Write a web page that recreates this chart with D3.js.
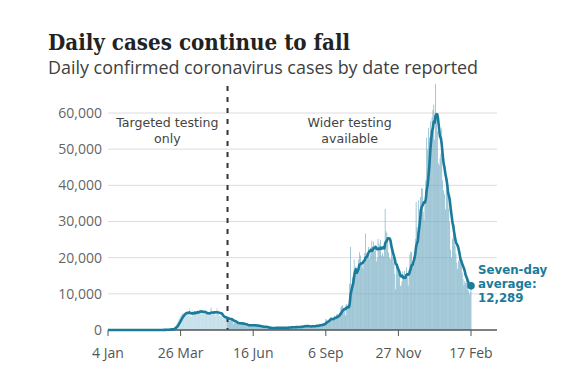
<!DOCTYPE html>
<html><head><meta charset="utf-8">
<script src="https://cdn.jsdelivr.net/npm/d3@7"></script>
<style>body{margin:0;background:#fff}svg{display:block}</style>
</head><body>
<svg id="c" width="572" height="374"></svg>
<script>
// ---- data (daily confirmed cases by date reported, from 4 Jan 2020) ----
const startDate = "2020-01-04";
const jan2020 = [0,0,0,0,0,0,0,0,0,0,0,0,0,0,0,0,0,0,0,0,0,0,0,0,0,0,0,2];
const feb2020 = [0,0,0,0,1,1,3,1,0,0,1,0,0,0,0,0,0,0,0,0,0,0,0,4,0,3,3,2,7];
const mar2020 = [12,4,11,34,29,48,45,69,43,67,83,134,117,208,342,251,152,407,800,1100,1500,1900,2400,2900,3400,3900,4300,4600,4500,4700,4900];
const apr2020 = [5000,4800,4900,3900,5900,3800,3700,5500,4400,5200,5300,4400,5200,4600,4600,5600,5500,5800,4700,4300,4500,4600,5400,4900,4500,4300,4000,4100,6000,6200];
const may2020 = [4800,4300,4700,4000,4400,6100,5600,4600,3900,3900,3900,3400,3200,3400,3600,3400,3500,2700,3100,2500,2600,3300,3000,2400,1600,2000,2000,1900,2100,1900,1600];
const jun2020 = [1650,1870,1870,1800,1650,1560,1330,1200,1390,1000,1270,1540,1420,1510,1060,1280,1120,1220,1350,1300,1220,960,920,650,1120,1010,890,900,820,690];
const jul2020 = [830,580,540,620,520,350,580,630,610,510,820,650,530,600,540,460,690,830,580,540,450,560,770,770,740,770,690,580,760,850,880];
const aug2020 = [740,740,940,670,890,950,870,760,1060,820,1150,1010,1440,1040,1010,1080,710,1090,810,1180,1030,1290,1040,850,1180,1050,1520,1280,1110,1720,1410];
const sep2020 = [1300,1510,1740,1940,1810,2990,2950,2460,2660,2920,3540,3500,3330,2620,3110,3990,3400,4320,4420,3900,4370,4930,6180,6630,6870,6040,5690,4040,7140,7110];
const oct2020 = [6910,6970,12870,22960,12590,14540,14160,19500,16500,17600,15300,16400,19500,21500,20600,17800,18200,17000,18800,21300,26700,21200,20500,23000,19800,20900,22900,24700,23100,24400,21900];
const nov2020 = [23300,18950,20000,25200,24100,23300,24960,20600,21350,20400,22950,33470,27300,26860,24960,21360,20050,19600,22900,20250,19900,18700,15450,11300,18200,17550,16000,15900,12150,12330];
const dec2020 = [13400,16200,14900,16300,15500,17300,14700,12300,16600,20950,21700,21500,18450,20250,18450,25150,35400,28500,27050,35900,33350,36800,39250,39050,32700,30500,34700,41400,53150,50000,55900];
const jan2021 = [53300,57700,55000,58800,60900,62300,52600,68050,59900,54950,46150,45550,47500,48700,55750,41350,38600,37550,33350,38900,37900,40250,33550,30000,22200,20100,25300,28700,29100,23300,21100];
const feb2021 = [18600,16850,19200,20650,19100,18250,15850,14100,12350,13500,13000,15150,13300,10950,9750,10600,12700];
const yTicks = [0,10000,20000,30000,40000,50000,60000];
const xTickDates = ["2020-01-04","2020-03-26","2020-06-16","2020-09-06","2020-11-27","2021-02-17"];
const xTickLabels = ["4 Jan","26 Mar","16 Jun","6 Sep","27 Nov","17 Feb"];
const testingChangeDate = "2020-05-18";
const annotations = [
  {date:"2020-03-11", lines:["Targeted testing","only"]},
  {date:"2020-10-03", lines:["Wider testing","available"]}
];
const endLabel = ["Seven-day","average:","12,289"];

// ---- build ----
const parse = d3.timeParse("%Y-%m-%d");
const start = parse(startDate);
const values = [].concat(jan2020,feb2020,mar2020,apr2020,may2020,jun2020,jul2020,aug2020,sep2020,oct2020,nov2020,dec2020,jan2021,feb2021);
const data = values.map((v,i)=>({date:d3.timeDay.offset(start,i), value:v}));
data.forEach((d,i)=>{
  const w = data.slice(Math.max(0,i-6), i+1);
  d.avg = d3.mean(w, e=>e.value);
});

const svg = d3.select("#c");
const blue = "#1a7b9b";
const x = d3.scaleTime().domain([parse("2020-01-04"), parse("2021-02-17")]).range([108,471]);
const y = d3.scaleLinear().domain([0,60000]).range([330,113]);
const change = parse(testingChangeDate);

function fit(sel, target){
  const n = sel.node();
  let fs = parseFloat(sel.attr("font-size"));
  for(let k=0;k<3;k++){ const w = n.getComputedTextLength(); fs = fs*target/w; sel.attr("font-size", fs); }
}

// title
const title = svg.append("text").attr("x",48).attr("y",50)
  .attr("font-family","'DejaVu Serif Condensed','DejaVu Serif',serif").attr("font-weight","bold")
  .attr("font-size",22).attr("fill","#222").text("Daily cases continue to fall");
fit(title, 302);
const sub = svg.append("text").attr("x",48).attr("y",74)
  .attr("font-family","'Open Sans',sans-serif").attr("font-size",16).attr("fill","#404040")
  .text("Daily confirmed coronavirus cases by date reported");
fit(sub, 430);

// grid
svg.append("g").selectAll("line").data(yTicks.filter(d=>d>0)).join("line")
  .attr("x1",108).attr("x2",497).attr("y1",d=>y(d)).attr("y2",d=>y(d))
  .attr("stroke","#dcdcdc").attr("stroke-width",1);

// y labels
svg.append("g").selectAll("text").data(yTicks).join("text")
  .attr("x",102).attr("y",d=>y(d)).attr("dy","0.35em").attr("text-anchor","end")
  .attr("font-family","'Open Sans',sans-serif").attr("font-size",14).attr("fill","#666")
  .text(d3.format(","));

// bars
const bw = 0.62;
svg.append("g").selectAll("rect").data(data.filter(d=>d.value>0)).join("rect")
  .attr("x",d=>x(d.date)-bw/2).attr("width",bw)
  .attr("y",d=>y(d.value)).attr("height",d=>y(0)-y(d.value))
  .attr("fill",d=>d.date<change?"#a9d0df":"#6ea9c0");

// dashed line
svg.append("line").attr("x1",x(change)).attr("x2",x(change)).attr("y1",86).attr("y2",330)
  .attr("stroke","#333").attr("stroke-width",2).attr("stroke-dasharray","5,6");

// annotations
annotations.forEach(a=>{
  const t = svg.append("text").attr("text-anchor","middle")
    .attr("font-family","'DejaVu Sans',sans-serif").attr("font-size",12.6).attr("fill","#444");
  a.lines.forEach((l,i)=>t.append("tspan").attr("x",x(parse(a.date))).attr("y",127+i*16).text(l));
});

// x axis
const xa = svg.append("g").attr("transform","translate(0,330)");
xa.append("line").attr("x1",108).attr("x2",497).attr("stroke","#555").attr("stroke-width",1.5);
const xt = xTickDates.map(parse);
xa.selectAll("line.t").data(xt).join("line").attr("class","t")
  .attr("x1",d=>x(d)).attr("x2",d=>x(d)).attr("y1",0).attr("y2",6).attr("stroke","#555");
xa.selectAll("text").data(xt).join("text")
  .attr("x",d=>x(d)).attr("y",28).attr("text-anchor","middle")
  .attr("font-family","'Open Sans',sans-serif").attr("font-size",14).attr("fill","#555")
  .text((d,i)=>xTickLabels[i]);

// 7-day average line
const line = d3.line().x(d=>x(d.date)).y(d=>y(d.avg)).curve(d3.curveMonotoneX);
svg.append("path").datum(data).attr("d",line).attr("fill","none")
  .attr("stroke",blue).attr("stroke-width",2.6).attr("stroke-linejoin","round");
const last = data[data.length-1];
svg.append("circle").attr("cx",x(last.date)).attr("cy",y(last.avg)).attr("r",3.8).attr("fill",blue);

// end label
const el = svg.append("text").attr("font-family","'DejaVu Sans',sans-serif").attr("font-weight","bold")
  .attr("font-size",11.8).attr("fill",blue);
endLabel.forEach((l,i)=>el.append("tspan").attr("x",478).attr("y",274+i*14.2).text(l));
</script>
</body></html>
